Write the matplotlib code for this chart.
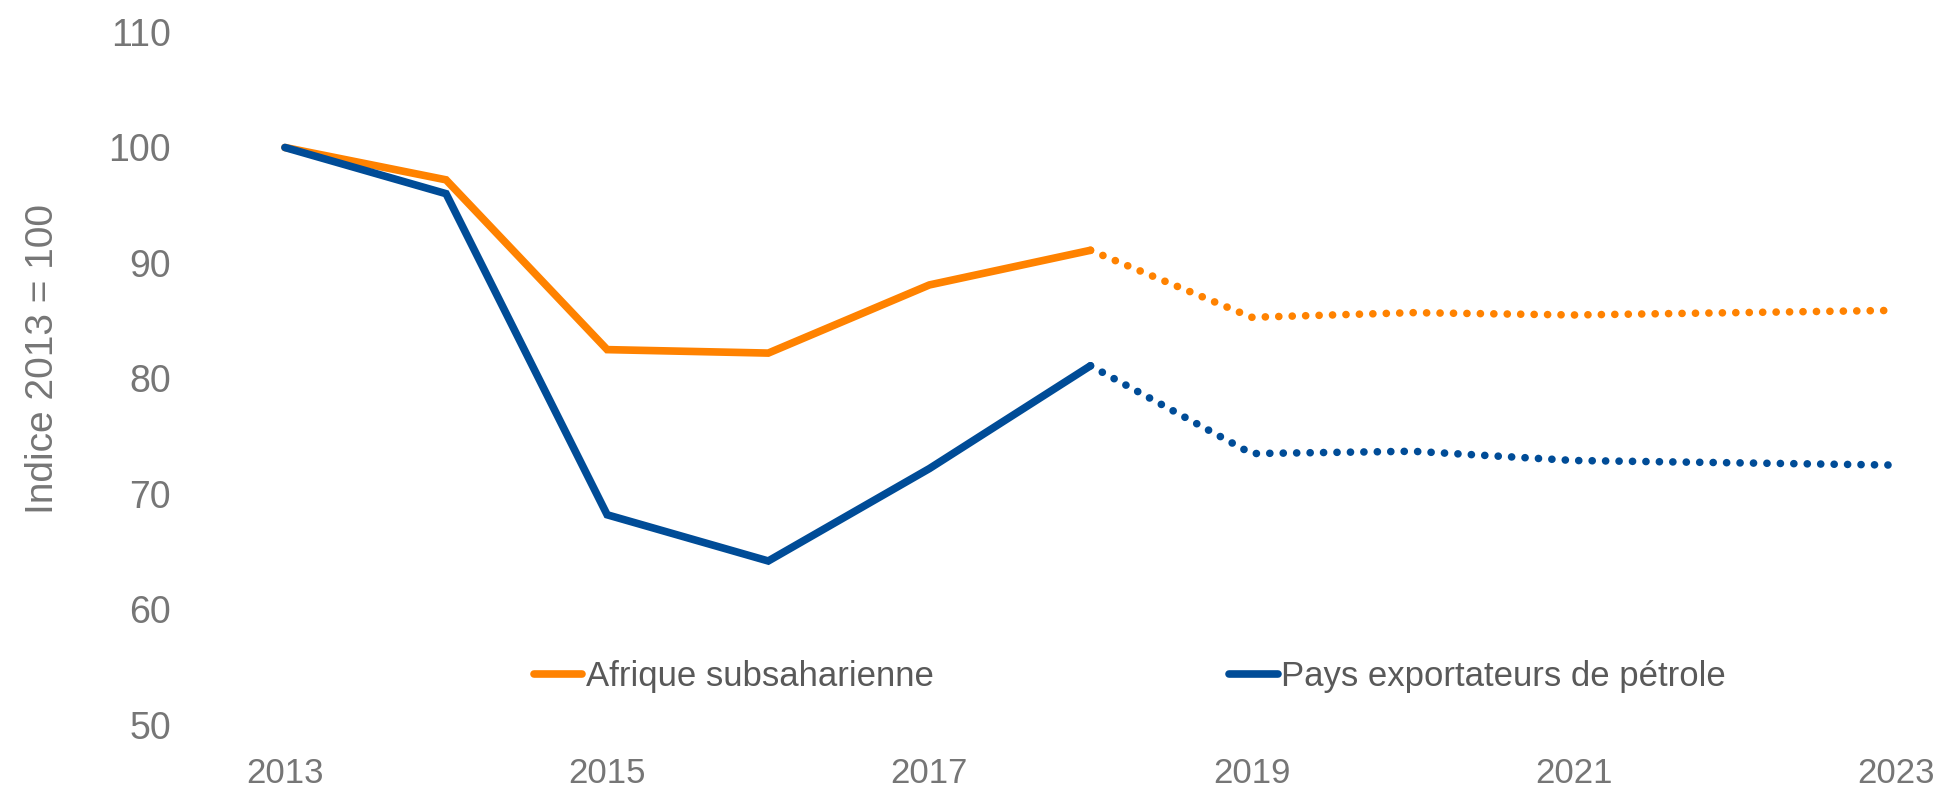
import matplotlib.pyplot as plt

years = [2013, 2014, 2015, 2016, 2017, 2018, 2019, 2020, 2021, 2022, 2023]
afrique = [100, 97.2, 82.5, 82.2, 88.1, 91.1, 85.3, 85.7, 85.5, 85.7, 85.9]
petrole = [100, 96.0, 68.2, 64.2, 72.2, 81.1, 73.5, 73.7, 72.9, 72.7, 72.5]
labels = ['Afrique subsaharienne', 'Pays exportateurs de pétrole']
xticks = [2013, 2015, 2017, 2019, 2021, 2023]
yticks = [50, 60, 70, 80, 90, 100, 110]

orange = '#FF8200'
blue = '#004C97'
grey = '#767676'
font = 'Liberation Sans'

fig = plt.figure(figsize=(19.49, 7.92), dpi=100)
ax = fig.add_axes([0.1462, 0.0846, 0.8266, 0.875])

split = years.index(2018)
lw = 5.5
for vals, col, lab in [(afrique, orange, labels[0]), (petrole, blue, labels[1])]:
    ax.plot(years[:split + 1], vals[:split + 1], color=col, lw=lw,
            solid_capstyle='round', solid_joinstyle='miter', label=lab, clip_on=False)
    ax.plot(years[split:], vals[split:], color=col, lw=lw,
            linestyle=(0, (0.01, 1.75)), dash_capstyle='round', clip_on=False)

ax.set_xlim(2013, 2023)
ax.set_ylim(50, 110)
ax.set_xticks(xticks)
ax.set_yticks(yticks)
for s in ax.spines.values():
    s.set_visible(False)
ax.tick_params(axis='both', length=0, labelcolor=grey)
ax.tick_params(axis='y', pad=82, labelsize=27)
ax.tick_params(axis='x', pad=23, labelsize=25)
for t in ax.get_xticklabels() + ax.get_yticklabels():
    t.set_fontfamily(font)

fig.text(0.022, 0.547, 'Indice 2013 = 100', rotation=90, va='center', ha='center',
         fontsize=28, color=grey, family=font)

fig.legend(loc='center left', bbox_to_anchor=(0.265, 0.146), ncol=2, frameon=False,
           borderpad=0, handlelength=1.4, handletextpad=0.1, columnspacing=8.5,
           prop={'family': font, 'size': 25}, labelcolor='#595959')

fig.savefig('out.png', dpi=100)
